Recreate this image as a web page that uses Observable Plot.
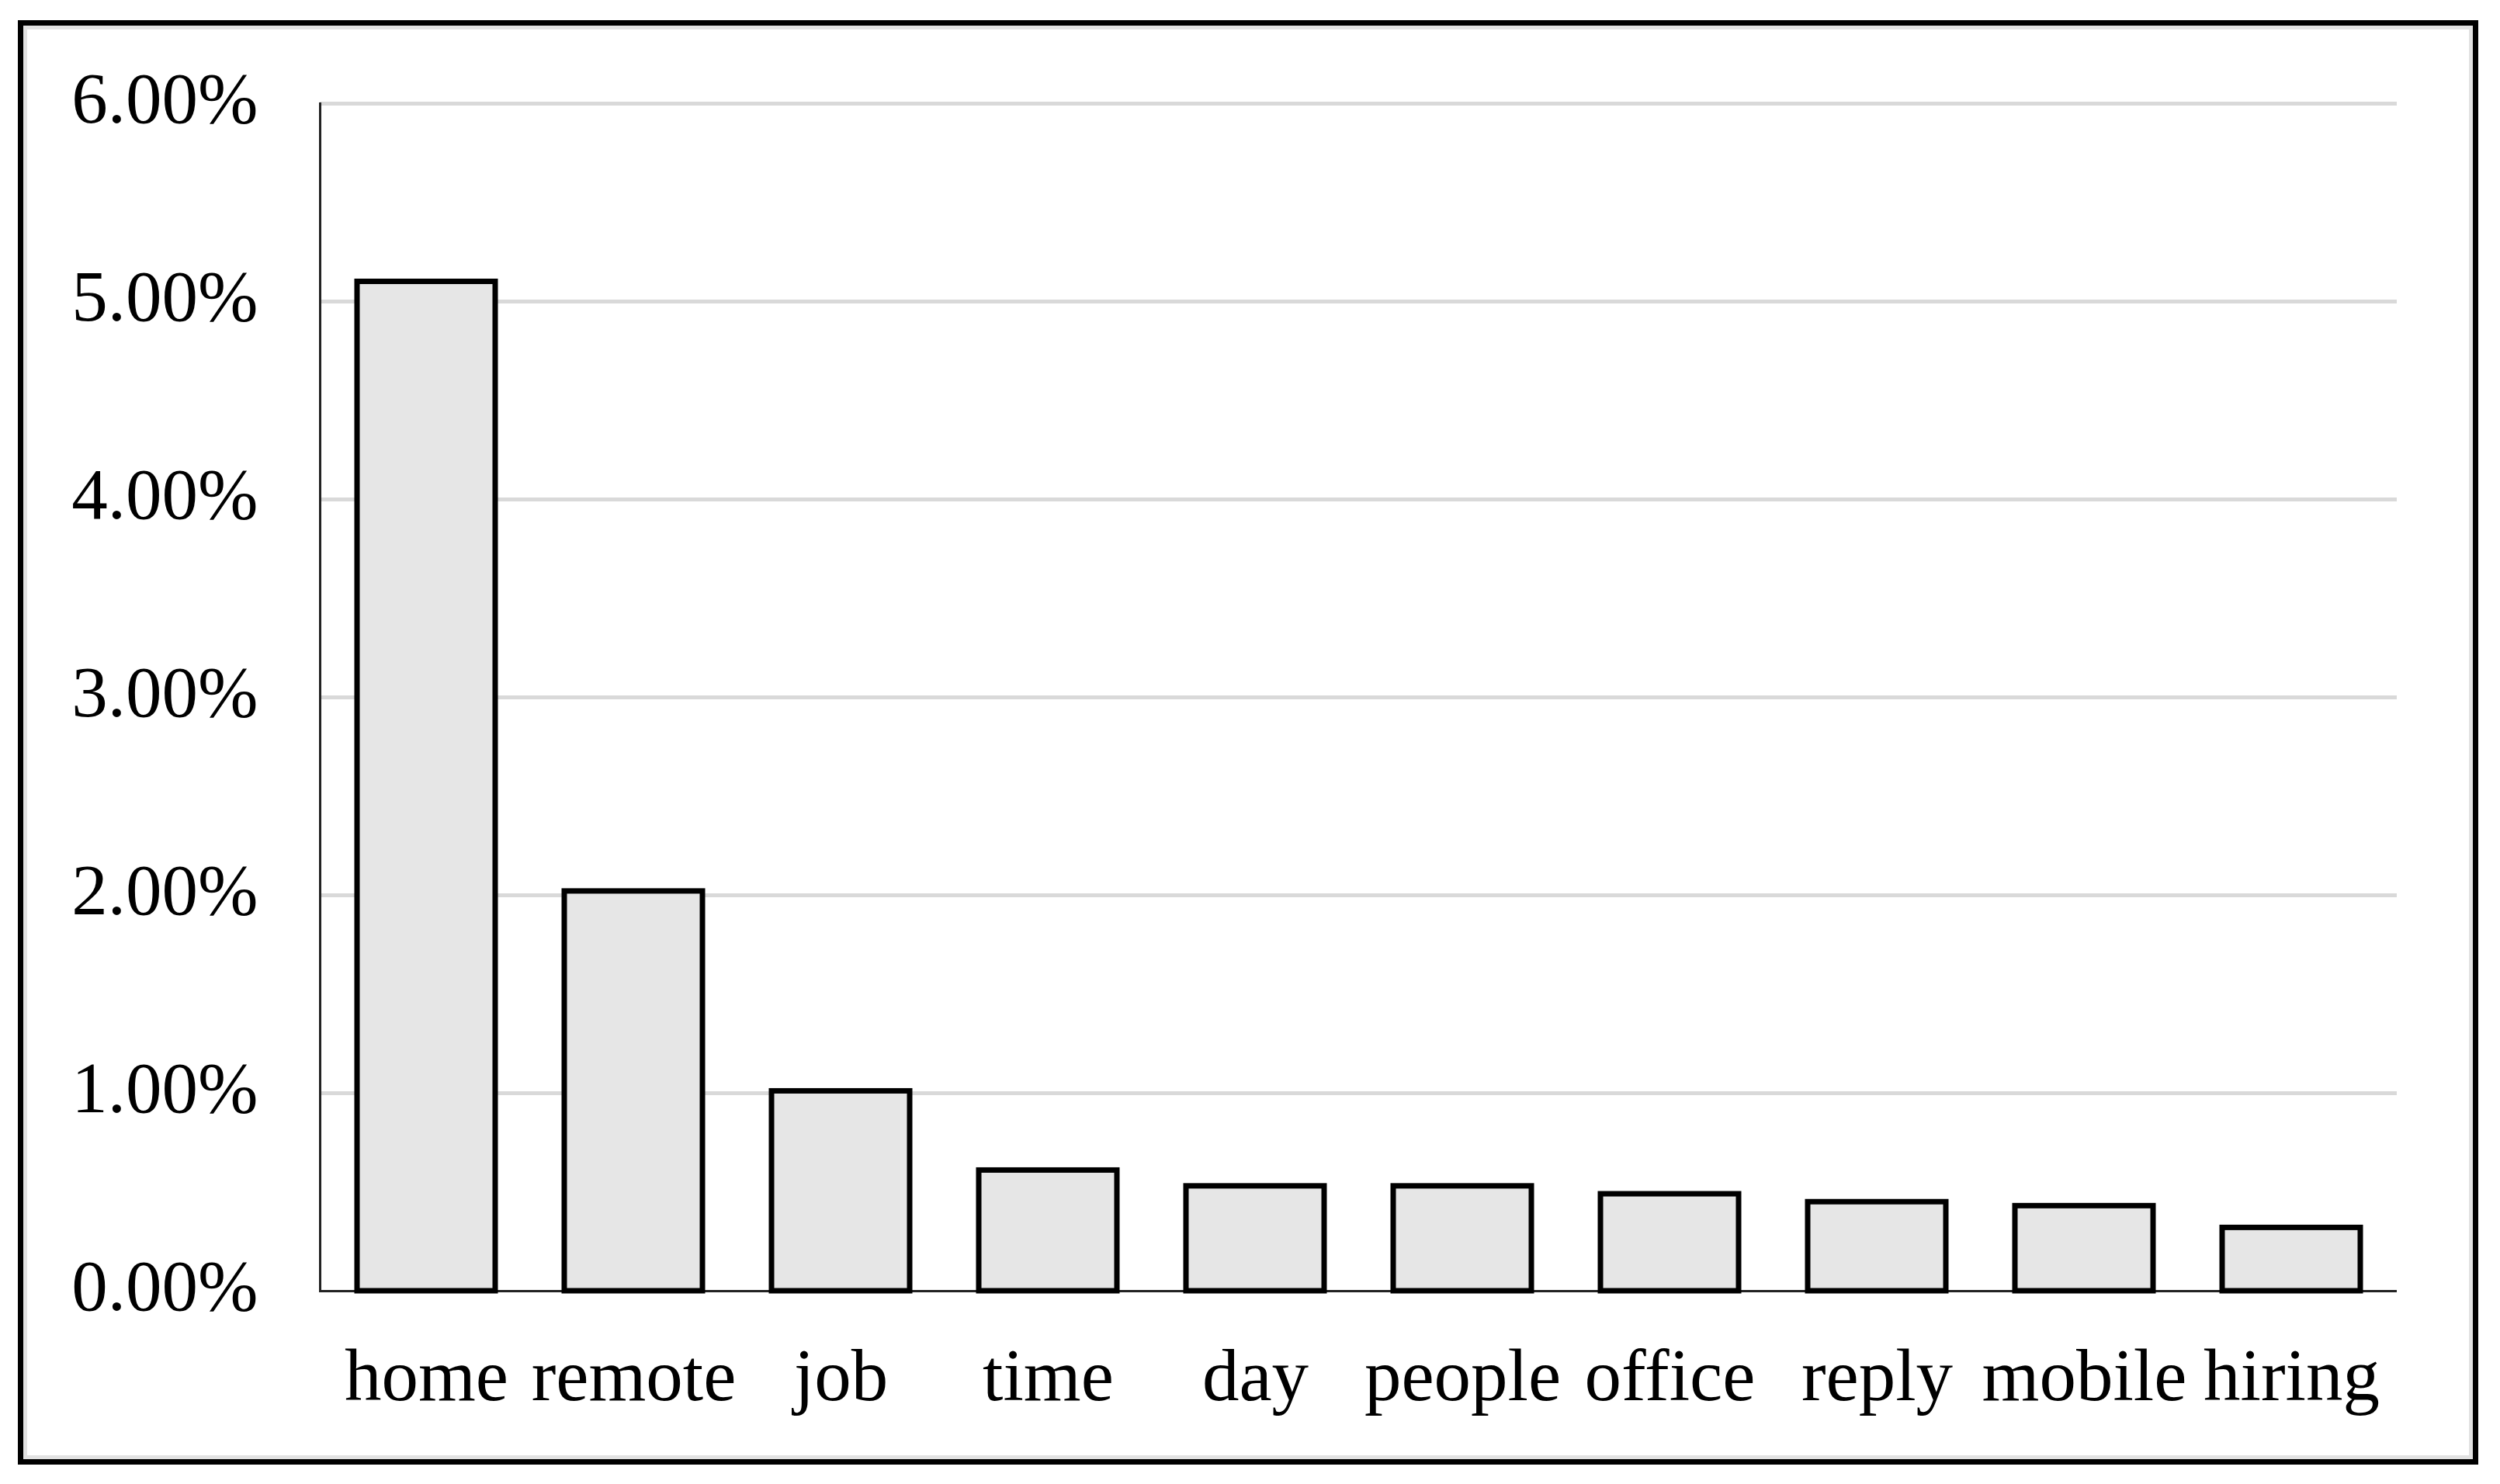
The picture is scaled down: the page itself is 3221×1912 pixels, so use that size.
<!DOCTYPE html>
<html>
<head>
<meta charset="utf-8">
<script src="https://cdn.jsdelivr.net/npm/d3@7"></script>
<script src="https://cdn.jsdelivr.net/npm/@observablehq/plot@0.6"></script>
<style>
  html, body { margin: 0; padding: 0; background: #fff; }
  #wrap { position: relative; width: 3221px; height: 1912px; overflow: hidden; }
  #frame { position: absolute; left: 23px; top: 26px; width: 3156px; height: 1847px;
           border: 7px solid #000; box-shadow: inset 0 0 0 5px #e2e2e2; pointer-events: none; }
  #chart { position: absolute; left: 0; top: 0; }
</style>
</head>
<body>
<div id="wrap">
  <div id="chart"></div>
  <div id="frame"></div>
</div>
<script>
const words = ["home", "remote", "job", "time", "day", "people", "office", "reply", "mobile", "hiring"];
const shares = [0.0510, 0.0202, 0.0101, 0.0061, 0.0053, 0.0053, 0.0049, 0.0045, 0.0043, 0.0032];
const yTicks = [0, 0.01, 0.02, 0.03, 0.04, 0.05, 0.06];

const data = words.map((w, i) => ({word: w, share: shares[i]}));
const font = "'Liberation Serif', 'Times New Roman', serif";

const chart = Plot.plot({
  width: 3221,
  height: 1912,
  marginLeft: 412,
  marginRight: 133,
  marginTop: 133,
  marginBottom: 249,
  style: {fontFamily: font, fontSize: "94px", color: "#000", background: "transparent"},
  x: {domain: words, paddingInner: 0.335, paddingOuter: 0.1675, label: null},
  y: {domain: [0, 0.06], label: null},
  marks: [
    Plot.gridY(yTicks.filter(d => d > 0), {stroke: "#d9d9d9", strokeOpacity: 1, strokeWidth: 5}),
    Plot.axisY({ticks: yTicks, tickFormat: d3.format(".2%"), tickSize: 0, tickPadding: 80,
                fontSize: 93, fill: "#000", dy: -5, label: null}),
    Plot.axisX({tickSize: 0, tickPadding: 73, fontSize: 95, fill: "#000", label: null}),
    Plot.ruleY([0], {stroke: "#222", strokeWidth: 3}),
    Plot.frame({anchor: "left", stroke: "#222", strokeWidth: 3}),
    Plot.barY(data, {x: "word", y: "share", fill: "#e6e6e6", stroke: "#000", strokeWidth: 7})
  ]
});
document.getElementById("chart").appendChild(chart);
</script>
</body>
</html>
